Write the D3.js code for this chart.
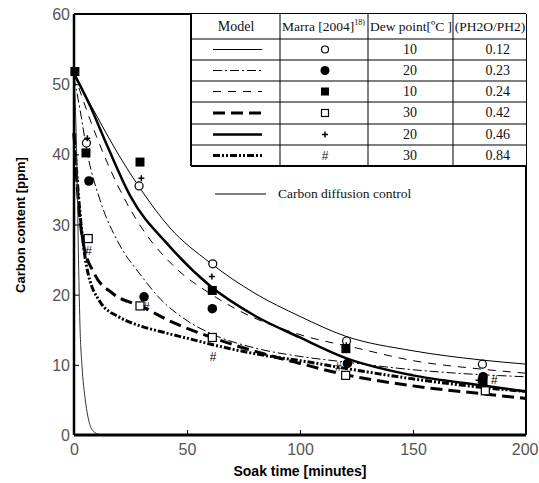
<!DOCTYPE html>
<html>
<head>
<meta charset="utf-8">
<script src="https://cdn.jsdelivr.net/npm/d3@7"></script>
<style>
  body { margin: 0; background: #fff; }
  svg { display: block; }
</style>
</head>
<body>
<svg id="chart"></svg>
<script>
// model curves: [soak time, carbon ppm]
const curve012 = [[0,51.5],[10,45.5],[20,39.8],[30,34.8],[42.5,29.5],[60,24.6],[80,20.2],[100,16.9],[120,14.1],[150,12.0],[180,10.7],[200,10.1]];
const curve023 = [[0,51],[2.7,46.3],[6,40],[11.5,33.5],[20,27.2],[30,22.6],[37,19.8],[50,16.3],[61,14.4],[80,12.4],[100,11.2],[120,10.4],[150,9.3],[180,8.6],[200,8.3]];
const curve024 = [[0,51.5],[10,42.5],[22.6,33.5],[30,29.5],[45,23.8],[60,20.2],[72,17.9],[100,14.3],[125,12.4],[150,10.6],[180,9.4],[200,8.8]];
const curve042 = [[0,43],[2,33],[4,27.5],[9,23],[17,20.2],[30,18.3],[44,16],[61,13.9],[87,11.3],[100,10.2],[120,8.6],[150,7.0],[180,5.9],[200,5.2]];
const curve046 = [[0,51.5],[7,47],[15,41],[25,34],[42,27],[60,21.3],[80,17],[100,13.9],[120,11.0],[150,8.5],[180,7.1],[200,6.2]];
const curve084 = [[0,43],[2,34],[5.6,24],[11.5,19],[20,16.8],[27,15.8],[40,14.6],[50,13.8],[61,12.9],[87,11.2],[100,10.6],[120,9.5],[150,8.0],[180,6.8],[200,6.2]];
const diffusion = [[0,52],[1.5,35],[2,25],[2.7,15],[3.5,10],[5,5],[7,1.5],[9,0.4],[12,0]];

// Marra [2004] measurements
const ptsOpenCircle = [[5.5,41.6],[28.8,35.5],[61.4,24.4],[120.6,13.4],[180.7,10.1]];
const ptsFilledCircle = [[6.6,36.2],[31,19.7],[61.2,18.0],[121,10.2],[181,8.3]];
const ptsFilledSquare = [[0.4,51.8],[5.3,40.2],[29.2,38.9],[61.2,20.6],[120.3,12.3],[181,7.5]];
const ptsOpenSquare = [[6.3,28.0],[29.2,18.4],[61.2,13.9],[120.2,8.5],[182,6.3]];
const ptsPlus = [[5.9,42.3],[29.8,36.6],[61,22.6],[120.5,12.8],[179,7.8]];
const ptsHash = [[6.5,26.3],[32,18.3],[61.6,11.1],[117,9.7],[186,7.9]];

const dewPoints = [10, 20, 10, 30, 20, 30];
const ratios = ["0.12", "0.23", "0.24", "0.42", "0.46", "0.84"];
const xTicks = [0, 50, 100, 150, 200];
const yTicks = [0, 10, 20, 30, 40, 50, 60];

const W = 539, H = 483;
const m = {left: 74, top: 14, right: 13, bottom: 48};
const iw = W - m.left - m.right, ih = H - m.top - m.bottom;

const svg = d3.select("#chart").attr("width", W).attr("height", H);
const g = svg.append("g").attr("transform", `translate(${m.left},${m.top})`);

const x = d3.scaleLinear().domain([0, 200]).range([0, iw]);
const y = d3.scaleLinear().domain([0, 60]).range([ih, 0]);

const line = d3.line().x(d => x(d[0])).y(d => y(d[1])).curve(d3.curveMonotoneX);

// styles per model
const styles = [
  {data: curve012, w: 1, dash: null},
  {data: curve023, w: 1, dash: "9,3,2,3"},
  {data: curve024, w: 1, dash: "8,7"},
  {data: curve042, w: 3, dash: "12,6"},
  {data: curve046, w: 2.5, dash: null},
  {data: curve084, w: 3, dash: "7,2,2,2,2,2"}
];

g.selectAll(".model").data(styles).join("path")
  .attr("class", "model")
  .attr("d", d => line(d.data))
  .attr("fill", "none").attr("stroke", "#000")
  .attr("stroke-width", d => d.w)
  .attr("stroke-dasharray", d => d.dash);

g.append("path").attr("d", line(diffusion))
  .attr("fill", "none").attr("stroke", "#333").attr("stroke-width", 1);

// axes
const xAxis = d3.axisBottom(x).tickValues(xTicks).tickSizeInner(-5).tickSizeOuter(0).tickPadding(9);
const yAxis = d3.axisLeft(y).tickValues(yTicks).tickSizeInner(-5).tickSizeOuter(0).tickPadding(4);
const gx = g.append("g").attr("transform", `translate(0,${ih})`).call(xAxis);
const gy = g.append("g").call(yAxis);
[gx, gy].forEach(a => {
  a.select(".domain").remove();
  a.selectAll("text").attr("font-family", "Liberation Sans, Arial, sans-serif")
    .attr("font-size", 16).attr("fill", "#555");
});
gy.selectAll("text").attr("dy", "0.35em");
gx.selectAll("text").filter(d => d === 200).attr("text-anchor", "end").attr("dx", 12);

// frame
g.append("line").attr("x1", 0).attr("x2", 0).attr("y1", 0).attr("y2", ih).attr("stroke", "#000").attr("stroke-width", 2.5);
g.append("line").attr("x1", 0).attr("x2", iw).attr("y1", ih).attr("y2", ih).attr("stroke", "#000").attr("stroke-width", 3);
g.append("line").attr("x1", 0).attr("x2", iw).attr("y1", 0).attr("y2", 0).attr("stroke", "#000").attr("stroke-width", 2);
g.append("line").attr("x1", iw).attr("x2", iw).attr("y1", 0).attr("y2", ih).attr("stroke", "#000").attr("stroke-width", 2);

// markers
const mk = g.append("g");
mk.selectAll(".oc").data(ptsOpenCircle).join("circle")
  .attr("cx", d => x(d[0])).attr("cy", d => y(d[1])).attr("r", 4)
  .attr("fill", "#fff").attr("stroke", "#000").attr("stroke-width", 1.2);
mk.selectAll(".fc").data(ptsFilledCircle).join("circle")
  .attr("cx", d => x(d[0])).attr("cy", d => y(d[1])).attr("r", 4.8).attr("fill", "#000");
mk.selectAll(".fs").data(ptsFilledSquare).join("rect")
  .attr("x", d => x(d[0]) - 4.5).attr("y", d => y(d[1]) - 4.5).attr("width", 9).attr("height", 9).attr("fill", "#000");
mk.selectAll(".os").data(ptsOpenSquare).join("rect")
  .attr("x", d => x(d[0]) - 4).attr("y", d => y(d[1]) - 4).attr("width", 8).attr("height", 8)
  .attr("fill", "#fff").attr("stroke", "#000").attr("stroke-width", 1.2);
mk.selectAll(".pl").data(ptsPlus).join("path")
  .attr("d", d => `M${x(d[0]) - 3},${y(d[1])}h6M${x(d[0])},${y(d[1]) - 3}v6`)
  .attr("stroke", "#000").attr("stroke-width", 1.5);
mk.selectAll(".hs").data(ptsHash).join("text")
  .attr("x", d => x(d[0])).attr("y", d => y(d[1])).attr("dy", "0.35em")
  .attr("text-anchor", "middle").attr("font-family", "Liberation Sans, Arial, sans-serif")
  .attr("font-size", 12).attr("fill", "#000").text("#");

// axis titles
svg.append("text").attr("transform", "translate(25,225) rotate(-90)")
  .attr("text-anchor", "middle").attr("font-family", "Liberation Sans, Arial, sans-serif")
  .attr("font-weight", "bold").attr("font-size", 13).text("Carbon content [ppm]");
svg.append("text").attr("x", 300).attr("y", 476)
  .attr("text-anchor", "middle").attr("font-family", "Liberation Sans, Arial, sans-serif")
  .attr("font-weight", "bold").attr("font-size", 14).text("Soak time [minutes]");

// legend table
const cols = [191, 280, 368, 453, 526];
const rows = [14, 39, 60, 81, 102, 124, 145, 166];
const tbl = svg.append("g").attr("font-family", "Liberation Serif, Times New Roman, serif").attr("font-size", 14).attr("fill", "#111");
tbl.append("rect").attr("x", cols[0]).attr("y", rows[0]).attr("width", cols[4] - cols[0]).attr("height", rows[7] - rows[0]).attr("fill", "#fff");
rows.slice(1).forEach((r, i) => {
  tbl.append("line").attr("x1", cols[0]).attr("x2", cols[4]).attr("y1", r).attr("y2", r)
    .attr("stroke", "#000").attr("stroke-width", i === 6 ? 2 : 1);
});
cols.slice(0, 4).forEach((c, i) => {
  tbl.append("line").attr("x1", c).attr("x2", c).attr("y1", rows[0]).attr("y2", rows[7])
    .attr("stroke", "#000").attr("stroke-width", i === 0 ? 2 : 1);
});
tbl.append("text").attr("x", 236).attr("y", 31).attr("text-anchor", "middle").text("Model");
const hm = tbl.append("text").attr("x", 282).attr("y", 31).attr("font-size", 13.5);
hm.append("tspan").text("Marra [2004]");
hm.append("tspan").attr("dy", -6).attr("font-size", 8).text("18)");
tbl.append("text").attr("x", 411).attr("y", 31).attr("text-anchor", "middle").attr("font-size", 13.5).text("Dew point[\u00baC ]");
tbl.append("text").attr("x", 490).attr("y", 31).attr("text-anchor", "middle").attr("font-size", 13.5).text("(PH2O/PH2)");

styles.forEach((s, i) => {
  const cy = (rows[i + 1] + rows[i + 2]) / 2;
  tbl.append("line").attr("x1", 213).attr("x2", 262).attr("y1", cy).attr("y2", cy)
    .attr("stroke", "#000").attr("stroke-width", s.w).attr("stroke-dasharray", s.dash);
  tbl.append("text").attr("x", 410).attr("y", cy + 4).attr("text-anchor", "middle").text(dewPoints[i]);
  tbl.append("text").attr("x", 510).attr("y", cy + 4).attr("text-anchor", "end").text(ratios[i]);
});
const sx = 325;
const symY = i => (rows[i + 1] + rows[i + 2]) / 2;
tbl.append("circle").attr("cx", sx).attr("cy", symY(0)).attr("r", 3.5).attr("fill", "#fff").attr("stroke", "#000").attr("stroke-width", 1.2);
tbl.append("circle").attr("cx", sx).attr("cy", symY(1)).attr("r", 4.5).attr("fill", "#000");
tbl.append("rect").attr("x", sx - 4).attr("y", symY(2) - 4).attr("width", 8).attr("height", 8).attr("fill", "#000");
tbl.append("rect").attr("x", sx - 3.5).attr("y", symY(3) - 3.5).attr("width", 7).attr("height", 7).attr("fill", "#fff").attr("stroke", "#000").attr("stroke-width", 1.2);
tbl.append("path").attr("d", `M${sx - 3},${symY(4)}h6M${sx},${symY(4) - 3}v6`).attr("stroke", "#000").attr("stroke-width", 1.5);
tbl.append("text").attr("x", sx).attr("y", symY(5) + 4).attr("text-anchor", "middle").attr("font-family", "Liberation Sans, Arial, sans-serif").attr("font-size", 12).text("#");

// diffusion legend
svg.append("line").attr("x1", 215).attr("x2", 266).attr("y1", 194).attr("y2", 194).attr("stroke", "#000").attr("stroke-width", 1);
svg.append("text").attr("x", 278).attr("y", 198).attr("font-family", "Liberation Serif, Times New Roman, serif")
  .attr("font-size", 13.5).attr("fill", "#111").text("Carbon diffusion control");
</script>
</body>
</html>
